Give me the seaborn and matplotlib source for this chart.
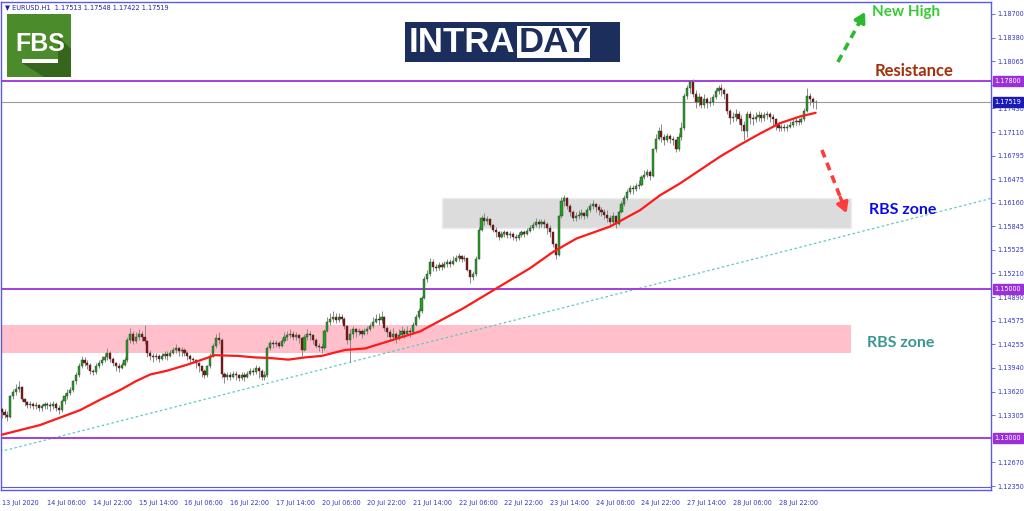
import numpy as np
import matplotlib
matplotlib.use("Agg")
import matplotlib.pyplot as plt
import seaborn as sns
from matplotlib.patches import Rectangle, Polygon

# EURUSD H1 candles, 13 Jul 14:00 -> 29 Jul 12:00 (weekdays), in pips above 1.1000
first_open_pips = 338
close_pips = [
    335, 330, 328, 356, 362, 366, 368, 352, 348, 344, 346, 342, 344, 340, 342, 345,
    344, 342, 346, 340, 337, 350, 356, 360, 364, 376, 384, 396, 404, 400, 398, 390,
    388, 396, 400, 404, 408, 414, 406, 400, 396, 394, 398, 404, 432, 440, 430, 436,
    440, 436, 430, 414, 410, 408, 410, 406, 410, 412, 410, 414, 418, 420, 416, 418,
    414, 410, 406, 404, 400, 396, 390, 384, 396, 410, 424, 434, 432, 386, 382, 384,
    382, 386, 384, 380, 384, 382, 386, 390, 388, 394, 390, 382, 384, 420, 428, 426,
    428, 424, 430, 436, 438, 440, 436, 438, 434, 418, 436, 440, 438, 432, 424, 422,
    420, 444, 456, 460, 462, 458, 462, 460, 450, 432, 440, 446, 442, 444, 440, 444,
    446, 450, 456, 460, 458, 462, 448, 442, 436, 440, 434, 438, 444, 440, 444, 442,
    452, 462, 470, 488, 514, 520, 536, 530, 528, 532, 530, 534, 536, 534, 538, 542,
    544, 540, 542, 526, 516, 520, 540, 580, 596, 592, 594, 586, 580, 576, 570, 574,
    576, 572, 574, 570, 568, 572, 576, 574, 578, 582, 586, 590, 588, 590, 588, 582,
    576, 560, 546, 598, 618, 622, 612, 604, 596, 598, 600, 602, 598, 606, 612, 614,
    610, 606, 604, 600, 596, 590, 598, 588, 604, 614, 622, 630, 636, 634, 638, 640,
    650, 654, 658, 652, 688, 702, 712, 704, 700, 706, 702, 700, 688, 704, 716, 760,
    770, 778, 762, 752, 758, 748, 756, 750, 752, 758, 766, 770, 768, 762, 740, 730,
    732, 736, 728, 720, 712, 736, 730, 728, 732, 734, 730, 734, 736, 732, 728, 720,
    716, 718, 716, 718, 720, 724, 726, 724, 728, 740, 760, 756, 751.3, 751.9,
]
high_pips = [
    340, 338, 336, 358, 366, 372, 376, 370, 354, 350, 350, 348, 348, 346, 346, 348,
    348, 348, 350, 348, 344, 352, 360, 366, 368, 378, 388, 400, 410, 408, 404, 400,
    392, 400, 404, 410, 414, 420, 416, 408, 402, 400, 402, 408, 436, 448, 444, 442,
    446, 444, 452, 432, 418, 414, 414, 412, 414, 416, 416, 418, 422, 426, 422, 422,
    420, 416, 412, 408, 406, 402, 398, 392, 398, 414, 428, 440, 442, 434, 388, 388,
    388, 390, 390, 386, 388, 388, 390, 394, 394, 398, 396, 392, 390, 424, 432, 432,
    432, 430, 434, 442, 444, 446, 444, 442, 440, 436, 440, 446, 444, 440, 434, 428,
    426, 446, 462, 468, 470, 468, 468, 466, 462, 452, 446, 450, 448, 448, 446, 448,
    450, 454, 462, 466, 468, 470, 464, 450, 446, 448, 442, 446, 450, 448, 450, 448,
    456, 466, 474, 490, 518, 526, 542, 540, 534, 536, 536, 538, 540, 540, 544, 546,
    548, 546, 546, 542, 526, 524, 544, 584, 600, 602, 598, 596, 588, 584, 578, 578,
    580, 578, 578, 576, 574, 576, 580, 580, 582, 586, 590, 596, 594, 594, 594, 590,
    586, 578, 562, 600, 624, 627, 624, 614, 606, 604, 606, 608, 604, 610, 616, 620,
    616, 614, 610, 608, 606, 600, 604, 600, 606, 618, 626, 634, 640, 640, 642, 646,
    654, 660, 662, 660, 690, 708, 718, 722, 708, 710, 708, 706, 702, 710, 724, 764,
    774, 780, 782, 768, 764, 760, 762, 758, 758, 762, 770, 775, 776, 770, 764, 742,
    738, 742, 740, 734, 726, 740, 740, 736, 738, 740, 738, 738, 740, 738, 736, 730,
    724, 722, 722, 722, 726, 728, 730, 730, 732, 744, 770, 764, 758, 754.8,
]
low_pips = [
    326, 326, 322, 326, 352, 358, 362, 350, 342, 340, 340, 338, 338, 336, 336, 338,
    338, 336, 338, 336, 332, 334, 346, 352, 358, 362, 372, 382, 394, 396, 392, 386,
    384, 386, 394, 398, 402, 404, 402, 396, 390, 388, 392, 396, 402, 428, 426, 428,
    432, 430, 426, 408, 404, 402, 404, 402, 404, 406, 404, 408, 412, 414, 410, 410,
    410, 404, 402, 400, 394, 388, 382, 380, 382, 394, 408, 420, 426, 380, 374, 378,
    378, 380, 378, 376, 378, 376, 380, 384, 384, 386, 380, 378, 378, 382, 418, 420,
    422, 420, 422, 428, 432, 434, 432, 432, 428, 410, 416, 432, 432, 426, 420, 416,
    414, 418, 442, 452, 456, 454, 456, 454, 446, 426, 402, 434, 436, 438, 434, 438,
    440, 444, 448, 454, 452, 454, 444, 436, 430, 432, 428, 432, 436, 434, 438, 436,
    440, 450, 460, 468, 486, 510, 518, 524, 524, 526, 526, 528, 530, 530, 532, 536,
    538, 536, 538, 524, 508, 512, 518, 540, 578, 586, 588, 584, 576, 570, 566, 568,
    570, 568, 568, 566, 564, 566, 570, 570, 572, 576, 580, 584, 582, 584, 582, 574,
    570, 556, 541, 544, 596, 612, 608, 598, 592, 592, 594, 596, 594, 596, 604, 608,
    604, 600, 598, 594, 590, 586, 586, 582, 586, 602, 612, 620, 628, 628, 632, 634,
    638, 648, 650, 646, 650, 684, 700, 698, 694, 698, 696, 694, 684, 686, 700, 714,
    756, 764, 758, 744, 746, 744, 744, 744, 746, 748, 756, 762, 760, 756, 736, 722,
    724, 726, 722, 712, 700, 704, 722, 720, 724, 726, 724, 726, 728, 724, 720, 714,
    712, 712, 712, 712, 716, 718, 720, 720, 722, 726, 738, 748, 744, 742.2,
]

# red moving average, read at points along the line (bar index, pips above 1.1000)
ma_bars = [0, 13.4, 27.4, 34.4, 41.4, 47.0, 52.0, 57.8, 64.8, 69.4, 74.7, 82.7, 88.7,
           94.5, 100.4, 106.2, 112, 120.2, 127.2, 136.5, 146.5, 161.6, 173.3, 185,
           193.1, 201.3, 213, 223.5, 230.5, 237.5, 244.5, 251.5, 258.5, 265.5,
           272.5, 279.5, 285]
ma_pips = [304, 317, 337, 351, 364, 376, 385, 390, 398, 404, 411, 410, 408, 407, 405,
           408, 410, 418, 420, 431, 443, 474, 501, 528, 550, 568, 584, 606, 626,
           642, 660, 678, 694, 709, 723, 732, 737]

# levels, zones and trend line
levels = [1.17800, 1.15000, 1.13000]
last_price = 1.17519
pink_zone = [1.14135, 1.14516]
gray_zone = [1.15816, 1.16220]
zone_start = [-0.6, 154.1]
zone_end = 297.4
trend_bars = [-0.6, 346.4]
trend_prices = [1.12812, 1.16218]

# 1.12985 sits under the 1.13000 tag in the reference, so it is not labelled
ytick_vals = [1.18700, 1.18380, 1.18065, 1.17745, 1.17430, 1.17110, 1.16795,
              1.16475, 1.16160, 1.15845, 1.15525, 1.15210, 1.14890, 1.14575,
              1.14255, 1.13940, 1.13620, 1.13305, 1.12670, 1.12350]
xtick_labels = ['13 Jul 2020', '14 Jul 06:00', '14 Jul 22:00', '15 Jul 14:00',
                '16 Jul 06:00', '16 Jul 22:00', '17 Jul 14:00', '20 Jul 06:00',
                '20 Jul 22:00', '21 Jul 14:00', '22 Jul 06:00', '22 Jul 22:00',
                '23 Jul 14:00', '24 Jul 06:00', '24 Jul 22:00', '27 Jul 14:00',
                '28 Jul 06:00', '28 Jul 22:00']

sns.set_style("white")

c = 1.1 + np.array(close_pips) / 10000
h = 1.1 + np.array(high_pips) / 10000
l = 1.1 + np.array(low_pips) / 10000
o = np.r_[1.1 + first_open_pips / 10000, c[:-1]]
h = np.maximum(h, np.maximum(o, c))
l = np.minimum(l, np.minimum(o, c))
x = np.arange(len(c))
up = c >= o

W, H = 1024, 511
frame = '#5a5ae6'
txtcol = '#3535c8'
fs = 4.7

fig = plt.figure(figsize=(W / 100, H / 100), dpi=100)
ax = fig.add_axes([1 / W, 1 - 490 / H, 990 / W, 488 / H])
ax.set_xlim(-0.25, 346.4)
ax.set_ylim(1.122966, 1.188601)

# zones and lines
ax.add_patch(Rectangle((zone_start[0], pink_zone[0]), zone_end - zone_start[0],
                       pink_zone[1] - pink_zone[0], fc='#ffc0cb', ec='none', zorder=1))
ax.add_patch(Rectangle((zone_start[1], gray_zone[0]), zone_end - zone_start[1],
                       gray_zone[1] - gray_zone[0], fc='#dcdcdc', ec='#eeeeee', lw=1, zorder=1))
ax.plot(trend_bars, trend_prices, color='#5cc9c2', lw=0.9, ls=(0, (2, 2)), zorder=2)
for lv in levels:
    ax.axhline(lv, color='#9b30d9', lw=1.3, zorder=2)
ax.axhline(last_price, color='#9a9a9a', lw=0.8, zorder=2)

# candles
ax.vlines(x, l, h, color='#8a8a8a', lw=0.7, zorder=3)
body = np.maximum(np.abs(c - o), 0.00003)
ax.bar(x, body, bottom=np.minimum(o, c), width=0.75,
       color=np.where(up, '#21a121', '#8b0f0f'), edgecolor='#333333', lw=0.3, zorder=4)

# moving average
sns.lineplot(x=ma_bars, y=1.1 + np.array(ma_pips) / 10000, color='#ff1a1a',
             lw=1.6, ax=ax, zorder=5)

# axes styling
for s in ax.spines.values():
    s.set_color(frame)
    s.set_linewidth(1)
ax.yaxis.tick_right()
ax.set_yticks(ytick_vals)
ax.set_yticklabels([f'{v:.5f}' for v in ytick_vals])
ax.set_xticks(np.arange(0, 16 * len(xtick_labels), 16))
ax.set_xticklabels(xtick_labels, ha='left')
ax.tick_params(axis='y', length=3, width=0.6, color=frame, labelcolor=txtcol,
               labelsize=fs, pad=1.5)
ax.tick_params(axis='x', length=5, width=0.6, color=frame, labelcolor=txtcol,
               labelsize=fs, pad=2.5)
ax.set_xlabel('')
ax.set_ylabel('')
ax.grid(False)
fig.add_artist(plt.Line2D([1 / W, 991 / W], [1 - 487 / H] * 2, color=frame, lw=0.8))

# price tags on the scale
tags = [(1.17800, '#9b30d9'), (1.15000, '#9b30d9'), (1.13000, '#9b30d9'),
        (last_price, '#1a1ab4')]
for lv, col in tags:
    ax.annotate(f'{lv:.5f}', xy=(1.0, lv), xycoords=('axes fraction', 'data'),
                xytext=(2.5, 0), textcoords='offset points', fontsize=fs,
                color='white', va='center', ha='left', annotation_clip=False, zorder=10,
                bbox=dict(boxstyle='square,pad=0.3', fc=col, ec=col))

# header
fig.text(5 / W, 1 - 7 / H, '\u25bc EURUSD.H1  1.17513 1.17548 1.17422 1.17519',
         fontsize=fs, color='#2020b0', va='center', ha='left')

# annotations
def arrow(x0, y0, x1, y1, col):
    ax.plot([x0, x0 + (x1 - x0) * 0.8], [y0, y0 + (y1 - y0) * 0.8], color=col,
            lw=2.6, ls=(0, (2.2, 1.6)), zorder=6, solid_capstyle='butt')
    ax.annotate('', xy=(x1, y1), xytext=(x0 + (x1 - x0) * 0.75, y0 + (y1 - y0) * 0.75),
                arrowprops=dict(arrowstyle='-|>,head_length=0.6,head_width=0.35',
                                color=col, lw=2.4, shrinkA=0, shrinkB=0), zorder=6)

arrow(292.8, 1.18053, 302.3, 1.18726, '#2db82d')
arrow(287.2, 1.16870, 295.8, 1.16020, '#ff3b3b')

lab = dict(fontweight='bold', family=['Lato', 'DejaVu Sans'],
           ha='center', va='center', zorder=7)
ax.text(316.6, 1.18719, 'New High', color='#33cc33', fontsize=11, **lab)
ax.text(319.6, 1.17932, 'Resistance', color='#a3300c', fontsize=12, **lab)
ax.text(315.4, 1.16063, 'RBS zone', color='#0a0ae8', fontsize=11.5, **lab)
ax.text(314.7, 1.14280, 'RBS zone', color='#3a9690', fontsize=11.5, **lab)

# logos (figure pixel coordinates, origin top-left)
def frect(x0, y0, x1, y1, col):
    fig.add_artist(Rectangle((x0 / W, 1 - y1 / H), (x1 - x0) / W, (y1 - y0) / H,
                             transform=fig.transFigure, fc=col, ec='none'))

frect(7, 14, 71, 77, '#4c8b2b')
fig.add_artist(Polygon([(58 / W, 1 - 36 / H), (71 / W, 1 - 49 / H), (71 / W, 1 - 77 / H),
                        (44 / W, 1 - 77 / H), (22 / W, 1 - 63 / H), (58 / W, 1 - 63 / H)],
                       closed=True, transform=fig.transFigure, fc='#36661e', ec='none'))
fig.text(40 / W, 1 - 44 / H, 'FBS', color='white', fontsize=18, fontweight='bold',
         family=['Liberation Sans', 'DejaVu Sans'], ha='center', va='center')
frect(22, 59, 58, 63, 'white')

frect(405, 22, 620, 62, '#1c2e5b')
frect(517, 26, 590, 58, 'white')
fig.text(409 / W, 1 - 42.5 / H, 'INTRA', color='white', fontsize=25, fontweight='bold',
         family=['Liberation Sans', 'DejaVu Sans'], ha='left', va='center')
fig.text(553.5 / W, 1 - 42.5 / H, 'DAY', color='#1c2e5b', fontsize=25, fontweight='bold',
         family=['Liberation Sans', 'DejaVu Sans'], ha='center', va='center')
ax.annotate('', xy=(615, H - 24), xycoords='figure pixels', xytext=(595, H - 41),
            textcoords='figure pixels', annotation_clip=False,
            arrowprops=dict(arrowstyle='simple,head_width=1.2,head_length=0.7,tail_width=0.55',
                            color='#25c6d4', lw=0))
ax.annotate('', xy=(594, H - 58), xycoords='figure pixels', xytext=(615, H - 41),
            textcoords='figure pixels', annotation_clip=False,
            arrowprops=dict(arrowstyle='simple,head_width=1.2,head_length=0.7,tail_width=0.55',
                            color='#ee2ad0', lw=0))

fig.savefig('out.png', dpi=100)
